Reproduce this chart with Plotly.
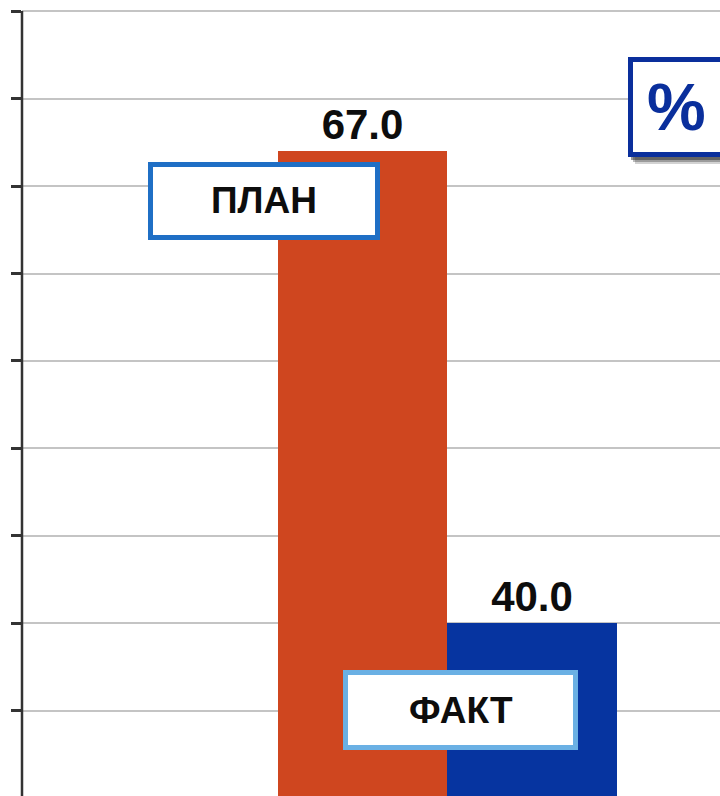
import plotly.graph_objects as go

categories = ["ПЛАН", "ФАКТ"]
values = [67.0, 40.0]
bar_colors = ["#CF461F", "#0634A0"]
tick_values = [35, 40, 45, 50, 55, 60, 65, 70, 75]
unit_label = "%"
y_range = [30.14, 75.63]

W, H = 720, 796
L = 22

def px_x(p):
    return (p - L) / (W - L)

def px_y(p):
    return 1 - p / H

fig = go.Figure()
fig.add_trace(go.Bar(
    x=[0, 1], y=values, width=1,
    marker=dict(color=bar_colors, line=dict(width=0)),
    text=[f"<b>{v:.1f}</b>" for v in values],
    textposition="outside",
    textfont=dict(family="Liberation Sans, Arial", size=42, color="#0d0d0d"),
    cliponaxis=False,
))

shapes = []
annotations = []

# y-axis line from the bottom up to the top tick
shapes.append(dict(type="line", xref="paper", yref="y", x0=0, x1=0,
                   y0=y_range[0], y1=max(tick_values),
                   line=dict(color="#333333", width=2.5), layer="above"))

def box(x0, y0, x1, y1, color, lw, text, tcolor, tsize, shadow=False):
    h = lw / 2
    if shadow:
        for i, op in enumerate([0.2, 0.3, 0.45]):
            off = 7 - i * 2
            shapes.append(dict(type="rect", xref="paper", yref="paper",
                               x0=px_x(x0 + off), x1=px_x(x1 + off), y0=px_y(y0 + off), y1=px_y(y1 + off),
                               line=dict(width=0), fillcolor=f"rgba(30,30,30,{op})", layer="above"))
    shapes.append(dict(type="rect", xref="paper", yref="paper",
                       x0=px_x(x0 + h), x1=px_x(x1 - h), y0=px_y(y0 + h), y1=px_y(y1 - h),
                       line=dict(color=color, width=lw), fillcolor="white", layer="above"))
    annotations.append(dict(xref="paper", yref="paper", x=px_x((x0 + x1) / 2), y=px_y((y0 + y1) / 2),
                            text=f"<b>{text}</b>", showarrow=False,
                            font=dict(family="Liberation Sans, Arial", size=tsize, color=tcolor),
                            xanchor="center", yanchor="middle"))

box(148, 162, 380, 240, "#1F6FC5", 5, categories[0], "#0d0d0d", 37)
box(343, 670, 578, 750, "#6AB0E4", 5, categories[1], "#0d0d0d", 37)
box(628, 57, 740, 157, "#0A2F9C", 5, unit_label, "#0A2F9C", 66, shadow=True)
annotations[-1]["x"] = px_x(676)

fig.update_layout(
    width=W, height=H,
    margin=dict(l=L, r=0, t=0, b=0),
    paper_bgcolor="white", plot_bgcolor="white",
    showlegend=False, bargap=0,
    shapes=shapes, annotations=annotations,
    xaxis=dict(range=[-2.009, 2.109], showticklabels=False, showgrid=False, zeroline=False, showline=False, ticks=""),
    yaxis=dict(range=y_range, tickvals=tick_values, showticklabels=False,
               showgrid=True, gridcolor="#C4C4C4", gridwidth=2,
               showline=False,
               ticks="outside", ticklen=10, tickwidth=2.5, tickcolor="#333333", zeroline=False),
)

fig.write_html("out.html", config={"displayModeBar": False},
               post_script="document.body.style.margin='0';document.body.style.overflow='hidden';")
